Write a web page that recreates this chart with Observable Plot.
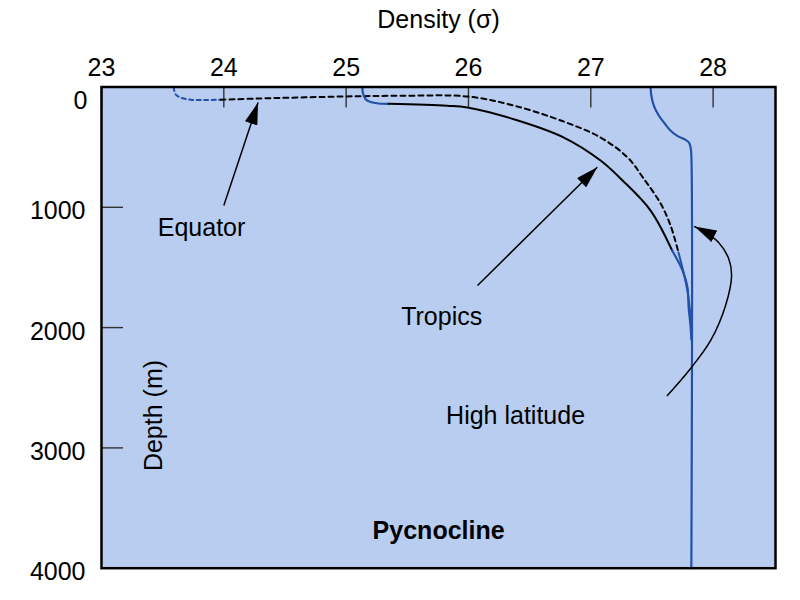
<!DOCTYPE html>
<html><head><meta charset="utf-8">
<script src="https://cdn.jsdelivr.net/npm/d3@7"></script>
<script src="https://cdn.jsdelivr.net/npm/@observablehq/plot@0.6"></script>
<style>body{margin:0;background:#fff}</style>
</head><body><div id="chart"></div>
<script>
// Tick values
const densityTicks = [23, 24, 25, 26, 27, 28];
const depthTicks = [1000, 2000, 3000, 4000];
const depthTickZero = [0];

// Profiles: [density (sigma), depth (m)]
const equatorSurface = [[23.59,0],[23.605,60],[23.646,87],[23.728,106],[23.85,108],[23.973,106]];
const equatorMain = [[23.973,106],[24.276,96],[24.979,79],[25.445,73],[25.993,79],[26.369,154],[26.778,287],[27.08,420],[27.301,586],[27.432,761],[27.571,969],[27.652,1151],[27.717,1376]];
const equatorDeep = [[27.717,1376],[27.761,1553],[27.794,1719],[27.816,1914],[27.822,2024]];

const tropicsSurface = [[25.132,0],[25.138,54],[25.159,101],[25.2,125],[25.265,137],[25.347,140]];
const tropicsMain = [[25.347,140],[25.826,156],[25.99,170],[26.371,268],[26.78,420],[27.08,611],[27.26,777],[27.489,1027],[27.665,1359]];
const tropicsDeep = [[27.665,1359],[27.75,1525],[27.79,1664],[27.80,1830],[27.816,1997],[27.822,2100]];

const highLatitude = [[27.489,0],[27.495,73],[27.516,156],[27.557,239],[27.598,295],[27.653,364],[27.707,406],[27.775,439],[27.802,461],[27.816,503],[27.822,572],[27.822,4000]];

// Annotations
const labelNames = ["Equator", "Tropics", "High latitude"];
const labelPos = [[23.818,1171],[25.781,1916],[26.385,2731]];
const straightArrows = [[24.0,985,24.28,129],[26.074,1650,27.053,667]];
const highLatArrow = [[27.626,2565],[27.816,2340],[27.98,2107],[28.102,1816],[28.151,1567],[28.127,1426],[28.045,1293],[27.939,1210],[27.849,1160]];
const depthLabel = [[23.433,2731,"Depth (m)"]];
const pycnoLabel = [[25.756,3687,"Pycnocline"]];

const blue = "#2450a8";
const font = "Liberation Sans, Arial, Helvetica, sans-serif";
const fs = 25;

const labels = labelNames.map((t, i) => ({t, x: labelPos[i][0], y: labelPos[i][1]}));
const fmt = d => String(d);

const svg = Plot.plot({
  width: 800,
  height: 600,
  marginLeft: 101,
  marginRight: 25,
  marginTop: 86.5,
  marginBottom: 32.3,
  style: {fontFamily: font, background: "white"},
  x: {domain: [23, 28.51]},
  y: {domain: [0, 4000], reverse: true},
  marks: [
    Plot.frame({fill: "#b8cdf0"}),
    // x axis (top): inward ticks + labels
    Plot.axisX(densityTicks, {anchor: "top", tickSize: -20, tickPadding: 31.5, tickFormat: fmt, stroke: "#333", strokeWidth: 1.4, fontSize: fs, fill: "black", label: null, fontFamily: font}),
    // y axis: inward ticks
    Plot.axisY(depthTicks, {anchor: "left", tickSize: -22, stroke: "#333", strokeWidth: 1.4, tickFormat: () => "", label: null}),
    // y labels
    Plot.axisY(depthTicks, {anchor: "left", tickSize: 0, tickPadding: 16, dy: 4, tickFormat: fmt, fontSize: fs, fill: "black", label: null, fontFamily: font}),
    Plot.axisY(depthTickZero, {anchor: "left", tickSize: 0, tickPadding: 14, dy: 13.5, tickFormat: fmt, fontSize: fs, fill: "black", label: null, fontFamily: font}),
    // Profiles
    Plot.line(equatorSurface, {x: d => d[0], y: d => d[1], curve: "catmull-rom", stroke: blue, strokeWidth: 2, strokeDasharray: "4,3.5"}),
    Plot.line(equatorMain, {x: d => d[0], y: d => d[1], curve: "catmull-rom", stroke: "black", strokeWidth: 2, strokeDasharray: "5,4"}),
    Plot.line(equatorDeep, {x: d => d[0], y: d => d[1], curve: "catmull-rom", stroke: blue, strokeWidth: 2}),
    Plot.line(tropicsSurface, {x: d => d[0], y: d => d[1], curve: "catmull-rom", stroke: blue, strokeWidth: 2.2}),
    Plot.line(tropicsMain, {x: d => d[0], y: d => d[1], curve: "catmull-rom", stroke: "black", strokeWidth: 2}),
    Plot.line(tropicsDeep, {x: d => d[0], y: d => d[1], curve: "catmull-rom", stroke: blue, strokeWidth: 2.2}),
    Plot.line(highLatitude, {x: d => d[0], y: d => d[1], curve: "catmull-rom", stroke: blue, strokeWidth: 2.2}),
    // Arrows
    Plot.link(straightArrows, {x1: d => d[0], y1: d => d[1], x2: d => d[2], y2: d => d[3], stroke: "black", strokeWidth: 1.5, markerEnd: "arrow"}),
    Plot.line(highLatArrow, {x: d => d[0], y: d => d[1], curve: "catmull-rom", stroke: "black", strokeWidth: 1.5, markerEnd: "arrow"}),
    // Texts
    Plot.text(labels, {x: "x", y: "y", text: "t", fontSize: fs, fill: "black", fontFamily: font}),
    Plot.text(depthLabel, {x: d => d[0], y: d => d[1], text: d => d[2], rotate: -90, fontSize: fs, fill: "black", fontFamily: font}),
    Plot.text(pycnoLabel, {x: d => d[0], y: d => d[1], text: d => d[2], fontSize: fs, fontWeight: "bold", fill: "black", fontFamily: font}),
    Plot.text(["Density (σ)"], {frameAnchor: "top", dy: -59.5, lineAnchor: "bottom", fontSize: fs, fill: "black", fontFamily: font}),
    Plot.frame({stroke: "black", strokeWidth: 2.5})
  ]
});

svg.querySelectorAll("marker").forEach(m => {
  m.setAttribute("viewBox", "-22 -6.5 22 13");
  m.setAttribute("markerUnits", "userSpaceOnUse");
  m.setAttribute("markerWidth", "22");
  m.setAttribute("markerHeight", "13");
  m.setAttribute("refX", "0");
  m.setAttribute("refY", "0");
  m.setAttribute("fill", "black");
  m.setAttribute("stroke", "none");
  m.innerHTML = '<path d="M-22,-6.5L0,0L-22,6.5Z"></path>';
});

document.getElementById("chart").appendChild(svg);
</script>
</body></html>
